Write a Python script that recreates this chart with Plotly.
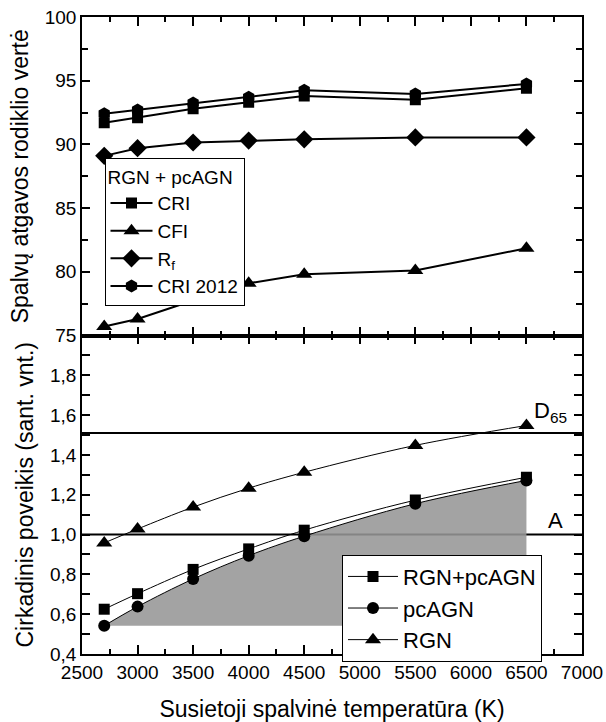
import plotly.graph_objects as go
from plotly.subplots import make_subplots

# ---- data ----
cct = [2700, 3000, 3500, 4000, 4500, 5500, 6500]
cri = [91.7, 92.1, 92.8, 93.3, 93.8, 93.5, 94.4]
cfi = [75.7, 76.3, 77.75, 79.1, 79.8, 80.1, 81.85]
rf = [89.1, 89.7, 90.15, 90.3, 90.4, 90.55, 90.55]
cri2012 = [92.4, 92.7, 93.25, 93.7, 94.25, 93.95, 94.75]

rgn_pcagn = [0.625, 0.703, 0.825, 0.928, 1.022, 1.173, 1.288]
pcagn = [0.542, 0.638, 0.777, 0.894, 0.992, 1.155, 1.272]
rgn = [0.958, 1.028, 1.138, 1.233, 1.313, 1.448, 1.548]

d65_level = 1.51
a_level = 1.0

x_ticks = [2500, 3000, 3500, 4000, 4500, 5000, 5500, 6000, 6500, 7000]
top_y_ticks = [75, 80, 85, 90, 95, 100]
bot_y_ticks = [0.4, 0.6, 0.8, 1.0, 1.2, 1.4, 1.6, 1.8]
bot_y_text = ["0,4", "0,6", "0,8", "1,0", "1,2", "1,4", "1,6", "1,8"]

FONT = "Arial, Liberation Sans, sans-serif"
BLACK = "black"

fig = make_subplots(rows=2, cols=1, shared_xaxes=False, vertical_spacing=0)

# ---- top panel ----
top_series = [
    ("CRI", cri, "square", 11),
    ("CFI", cfi, "triangle-up", 14),
    ("R<sub>f</sub>", rf, "diamond", 14),
    ("CRI 2012", cri2012, "hexagon", 13),
]
for name, ys, sym, sz in top_series:
    fig.add_trace(go.Scatter(
        x=cct, y=ys, name=name, mode="lines+markers",
        line=dict(color=BLACK, width=2),
        marker=dict(symbol=sym, size=sz, color=BLACK),
        legend="legend",
    ), row=1, col=1)

# ---- bottom panel ----
fig.add_trace(go.Scatter(
    x=[cct[0], cct[-1]], y=[pcagn[0], pcagn[0]], mode="lines",
    line=dict(width=0), showlegend=False, hoverinfo="skip"), row=2, col=1)
fig.add_trace(go.Scatter(
    x=cct, y=pcagn, mode="lines", line=dict(width=0, shape="spline"),
    fill="tonexty", fillcolor="rgba(150,150,150,0.88)",
    showlegend=False, hoverinfo="skip"), row=2, col=1)

bot_series = [
    ("RGN+pcAGN", rgn_pcagn, "square", 11),
    ("pcAGN", pcagn, "circle", 12),
    ("RGN", rgn, "triangle-up", 14),
]
for name, ys, sym, sz in bot_series:
    fig.add_trace(go.Scatter(
        x=cct, y=ys, name=name, mode="lines+markers",
        line=dict(color=BLACK, width=1, shape="spline"),
        marker=dict(symbol=sym, size=sz, color=BLACK),
        legend="legend2",
    ), row=2, col=1)

for lvl in (d65_level, a_level):
    fig.add_shape(type="line", xref="x2", yref="y2", x0=2500, x1=7000,
                  y0=lvl, y1=lvl, line=dict(color=BLACK, width=2), layer="below")

fig.add_annotation(x=6550, y=d65_level, xref="x2", yref="y2",
                   text="D<sub>65</sub>", showarrow=False,
                   xanchor="left", yanchor="bottom", yshift=5,
                   font=dict(family=FONT, size=22, color=BLACK))
fig.add_annotation(x=6765, y=a_level, xref="x2", yref="y2",
                   text="A", showarrow=False,
                   xanchor="center", yanchor="bottom", yshift=0,
                   font=dict(family=FONT, size=22, color=BLACK))

axis_common = dict(showline=True, linecolor=BLACK, linewidth=1.6,
                   mirror="allticks", ticks="inside", tickcolor=BLACK,
                   showgrid=False, zeroline=False, automargin=False,
                   tickfont=dict(family=FONT, size=19, color=BLACK))

fig.update_xaxes(range=[2500, 7000], tickvals=x_ticks, ticklen=9, tickwidth=1.5,
                 minor=dict(dtick=250, ticklen=5, tickwidth=1.5, tickcolor=BLACK, ticks="inside"),
                 **axis_common)
fig.update_xaxes(showticklabels=False, row=1, col=1)
fig.update_xaxes(title=dict(text="Susietoji spalvinė temperatūra (K)",
                            font=dict(family=FONT, size=23, color=BLACK), standoff=20),
                 row=2, col=1)

fig.update_yaxes(range=[75, 100], tickvals=top_y_ticks, ticklen=8, tickwidth=1.5,
                 minor=dict(dtick=2.5, ticklen=6, tickwidth=1.5, tickcolor=BLACK, ticks="inside"),
                 title=dict(text="Spalvų atgavos rodiklio vertė",
                            font=dict(family=FONT, size=23, color=BLACK), standoff=10),
                 row=1, col=1, **axis_common)
fig.update_yaxes(range=[0.4, 2.0], tickvals=bot_y_ticks, ticktext=bot_y_text,
                 ticklen=8, tickwidth=1.5,
                 minor=dict(dtick=0.1, ticklen=8, tickwidth=1.5, tickcolor=BLACK, ticks="inside"),
                 title=dict(text="Cirkadinis poveikis (sant. vnt.)",
                            font=dict(family=FONT, size=23, color=BLACK), standoff=10),
                 row=2, col=1, **axis_common)

fig.update_layout(
    width=606, height=722,
    margin=dict(l=82, r=24, t=17, b=68, autoexpand=False),
    plot_bgcolor="white", paper_bgcolor="white",
    font=dict(family=FONT, color=BLACK),
    legend=dict(
        x=0.045, y=0.778, xanchor="left", yanchor="top",
        bgcolor="white", bordercolor=BLACK, borderwidth=1,
        font=dict(family=FONT, size=19, color=BLACK),
        title=dict(text="RGN + pcAGN", side="top",
                   font=dict(family=FONT, size=19, color=BLACK)),
        itemwidth=42, tracegroupgap=0, traceorder="normal",
    ),
    legend2=dict(
        x=0.52, y=0.156, xanchor="left", yanchor="top",
        bgcolor="white", bordercolor=BLACK, borderwidth=1,
        font=dict(family=FONT, size=22, color=BLACK),
        itemwidth=50, tracegroupgap=0, traceorder="normal",
    ),
)

fig.write_html("out.html")
